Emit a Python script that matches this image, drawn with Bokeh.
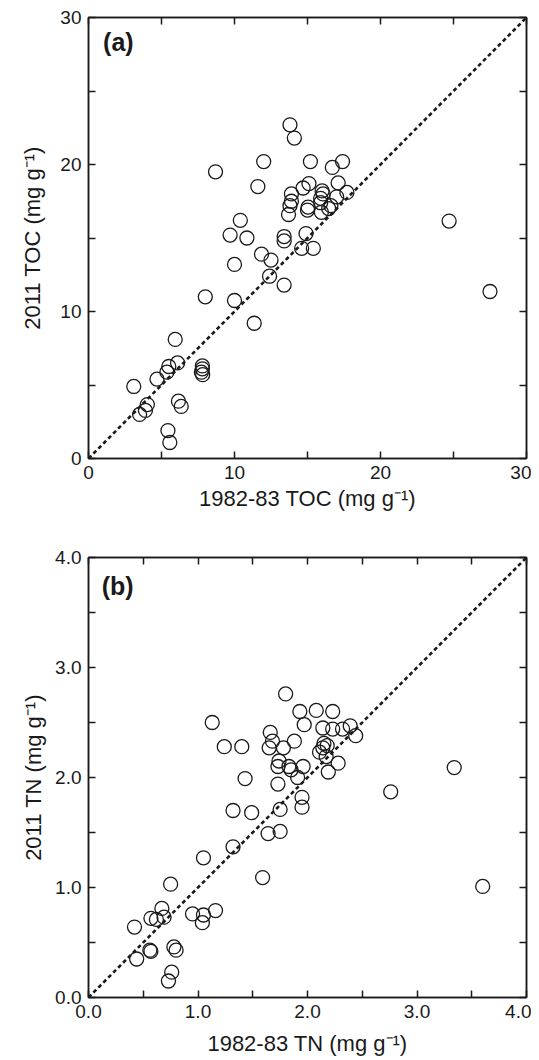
from bokeh.plotting import figure
from bokeh.models import Range1d, LinearAxis, FixedTicker, Label, Slope, NumeralTickFormatter
from bokeh.layouts import column
from bokeh.embed import file_html
from bokeh.resources import INLINE

# Panel (a): TOC (mg g-1)
toc_1982 = [13.8, 14.1, 8.7, 12.0, 11.6, 15.2, 16.7, 17.4, 14.7, 15.1, 17.1, 13.9, 13.9, 13.8,
            13.7, 16.0, 16.06, 17.7, 15.9, 17.0, 15.04, 15.0, 15.9, 16.6, 16.45, 15.95, 10.4,
            9.7, 10.85, 13.4, 13.4, 14.9, 11.85, 12.5, 10.0, 14.6, 15.4, 12.4, 13.4, 8.0, 10.0,
            11.35, 5.94, 6.1, 5.5, 5.37, 4.69, 7.8, 7.8, 7.73, 7.82, 3.1, 4.03, 3.9, 3.5, 6.16,
            6.35, 5.44, 5.57, 24.7, 27.5]
toc_2011 = [22.7, 21.8, 19.5, 20.2, 18.5, 20.2, 19.8, 20.2, 18.4, 18.7, 18.75, 18.0, 17.5, 17.2,
            16.6, 18.2, 18.0, 18.1, 17.7, 17.8, 17.1, 16.9, 17.4, 17.2, 17.0, 16.75, 16.2,
            15.2, 15.0, 15.1, 14.8, 15.3, 13.9, 13.5, 13.2, 14.3, 14.3, 12.4, 11.8, 11.0, 10.75,
            9.2, 8.1, 6.5, 6.26, 5.87, 5.4, 6.3, 6.1, 5.87, 5.7, 4.9, 3.67, 3.27, 3.0, 3.9,
            3.54, 1.9, 1.09, 16.15, 11.36]

# Panel (b): TN (mg g-1)
tn_1982 = [1.80, 1.93, 1.97, 1.13, 1.66, 1.68, 1.88, 1.24, 1.40, 1.65, 1.78, 1.74, 1.73, 1.83,
           1.85, 1.96, 1.91, 1.43, 1.73, 1.95, 2.08, 2.23, 2.14, 2.23, 2.32, 2.39, 2.44, 2.15,
           2.18, 2.14, 2.11, 2.17, 2.28, 2.19, 3.34, 2.76, 1.95, 1.32, 1.49, 1.75, 1.75, 1.64,
           1.32, 1.05, 1.59, 0.75, 0.67, 0.69, 0.57, 0.62, 0.95, 1.05, 1.04, 1.16, 0.42, 0.56,
           0.57, 0.78, 0.80, 0.44, 0.76, 0.73, 3.60]
tn_2011 = [2.76, 2.60, 2.48, 2.50, 2.41, 2.33, 2.33, 2.28, 2.28, 2.27, 2.27, 2.15, 2.10, 2.10,
           2.07, 2.10, 2.00, 1.99, 1.94, 1.82, 2.61, 2.60, 2.45, 2.44, 2.44, 2.47, 2.38, 2.31,
           2.29, 2.27, 2.23, 2.19, 2.13, 2.05, 2.09, 1.87, 1.73, 1.70, 1.68, 1.71, 1.51, 1.49,
           1.37, 1.27, 1.09, 1.03, 0.81, 0.73, 0.72, 0.71, 0.76, 0.75, 0.68, 0.79, 0.64, 0.43,
           0.42, 0.46, 0.43, 0.35, 0.23, 0.15, 1.01]

# labelled ticks and unlabelled (half-step) ticks
ticks_a = [0, 10, 20, 30]
mid_ticks_a = [5, 15, 25]
ticks_b = [0, 1, 2, 3, 4]
mid_ticks_b = [0.5, 1.5, 2.5, 3.5]

FONT = "Liberation Sans"
INK = "#1a1a1a"


def base_axis(ax):
    ax.axis_line_color = INK
    ax.axis_line_width = 1.5
    ax.major_tick_line_color = INK
    ax.major_tick_line_width = 1.5
    ax.minor_tick_line_color = INK
    ax.minor_tick_line_width = 1.5
    ax.major_tick_in = 7
    ax.major_tick_out = 0
    ax.minor_tick_in = 7
    ax.minor_tick_out = 0


def label_axis(ax, ticks, mids, fmt, title, title_standoff):
    base_axis(ax)
    ax.ticker = FixedTicker(ticks=ticks, minor_ticks=mids)
    if fmt is not None:
        ax.formatter = fmt
    ax.major_label_text_font = FONT
    ax.major_label_text_font_size = "19px"
    ax.major_label_text_color = INK
    ax.major_label_standoff = 7
    ax.axis_label = title
    ax.axis_label_text_font = FONT
    ax.axis_label_text_font_size = "22px"
    ax.axis_label_text_font_style = "normal"
    ax.axis_label_text_color = INK
    ax.axis_label_standoff = title_standoff


def mirror_axis(ax, ticks, mids):
    base_axis(ax)
    ax.ticker = FixedTicker(ticks=[], minor_ticks=sorted(ticks + mids))
    ax.major_label_standoff = 0


def make(xs, ys, lim, ticks, mids, fmt, xlab, ylab, panel, px, py,
         height, bl, br, bt, bb, ylab_standoff, xlab_standoff):
    p = figure(width=531, height=height, x_range=Range1d(0, lim), y_range=Range1d(0, lim),
               output_backend="svg", toolbar_location=None,
               min_border_left=bl, min_border_right=br, min_border_top=bt, min_border_bottom=bb)
    p.grid.visible = False
    p.outline_line_color = INK
    p.outline_line_width = 1.5
    p.background_fill_color = "white"
    p.border_fill_color = "white"
    right = LinearAxis()
    top = LinearAxis()
    p.add_layout(right, "right")
    p.add_layout(top, "above")
    label_axis(p.below[0], ticks, mids, fmt, xlab, xlab_standoff)
    label_axis(p.left[0], ticks, mids, fmt, ylab, ylab_standoff)
    mirror_axis(right, ticks, mids)
    mirror_axis(top, ticks, mids)

    p.add_layout(Slope(gradient=1, y_intercept=0, line_color=INK, line_width=2.6,
                       line_dash="4 3"))
    p.scatter(xs, ys, size=14, marker="circle", fill_color=None, line_color=INK,
              line_width=1.3)
    p.add_layout(Label(x=px, y=py, text=panel, text_font=FONT, text_font_style="bold",
                       text_font_size="25px", text_color=INK, text_baseline="middle",
                       text_align="left"))
    return p


pa = make(toc_1982, toc_2011, 30, ticks_a, mid_ticks_a, None,
          "1982-83 TOC (mg g\u207b\u00b9)", "2011 TOC (mg g\u207b\u00b9)", "(a)", 1.0, 28.3,
          522, 88, 2, 17, 64, 12, 4)
pb = make(tn_1982, tn_2011, 4, ticks_b, mid_ticks_b, NumeralTickFormatter(format="0.0"),
          "1982-83 TN (mg g\u207b\u00b9)", "2011 TN (mg g\u207b\u00b9)", "(b)", 0.12, 3.74,
          538, 82, 5, 35, 63, 6, 10)

layout = column(pa, pb)
open("out.html", "w").write(file_html(layout, INLINE))
